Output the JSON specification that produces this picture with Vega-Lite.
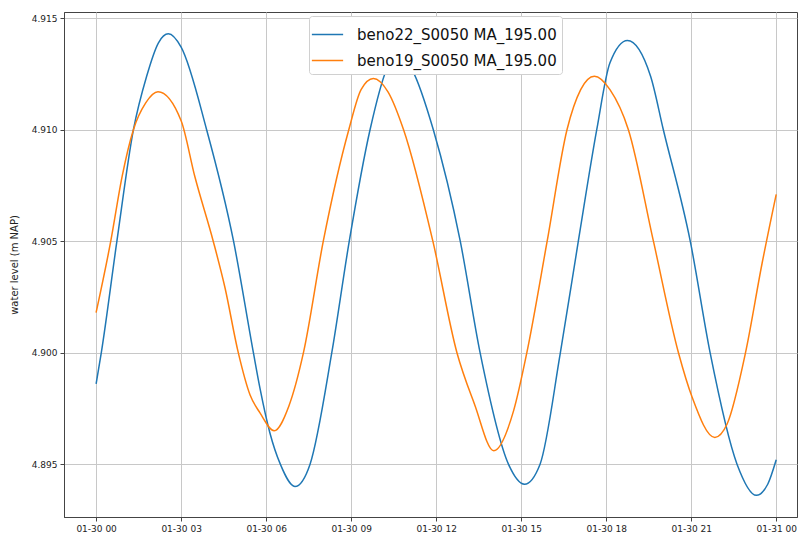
{
  "$schema": "https://vega.github.io/schema/vega-lite/v6.json",
  "width": 733,
  "height": 505,
  "autosize": {"type": "none"},
  "padding": {"left": 64, "top": 12, "right": 1, "bottom": 18},
  "background": "white",
  "config": {
    "view": {"stroke": "#444", "strokeWidth": 1},
    "font": "DejaVu Sans"
  },
  "data": {
    "values": [
      {"time": "2023-01-30T00:00", "series": "beno22_S0050 MA_195.00", "level": 4.8986},
      {"time": "2023-01-30T00:11", "series": "beno22_S0050 MA_195.00", "level": 4.9000},
      {"time": "2023-01-30T00:44", "series": "beno22_S0050 MA_195.00", "level": 4.9050},
      {"time": "2023-01-30T01:19", "series": "beno22_S0050 MA_195.00", "level": 4.9100},
      {"time": "2023-01-30T01:47", "series": "beno22_S0050 MA_195.00", "level": 4.9124},
      {"time": "2023-01-30T02:12", "series": "beno22_S0050 MA_195.00", "level": 4.9139},
      {"time": "2023-01-30T02:33", "series": "beno22_S0050 MA_195.00", "level": 4.9143},
      {"time": "2023-01-30T03:00", "series": "beno22_S0050 MA_195.00", "level": 4.9137},
      {"time": "2023-01-30T03:54", "series": "beno22_S0050 MA_195.00", "level": 4.9100},
      {"time": "2023-01-30T04:51", "series": "beno22_S0050 MA_195.00", "level": 4.9050},
      {"time": "2023-01-30T05:33", "series": "beno22_S0050 MA_195.00", "level": 4.9000},
      {"time": "2023-01-30T05:47", "series": "beno22_S0050 MA_195.00", "level": 4.8984},
      {"time": "2023-01-30T06:08", "series": "beno22_S0050 MA_195.00", "level": 4.8964},
      {"time": "2023-01-30T06:30", "series": "beno22_S0050 MA_195.00", "level": 4.8950},
      {"time": "2023-01-30T07:01", "series": "beno22_S0050 MA_195.00", "level": 4.8940},
      {"time": "2023-01-30T07:33", "series": "beno22_S0050 MA_195.00", "level": 4.8950},
      {"time": "2023-01-30T08:19", "series": "beno22_S0050 MA_195.00", "level": 4.9000},
      {"time": "2023-01-30T08:56", "series": "beno22_S0050 MA_195.00", "level": 4.9050},
      {"time": "2023-01-30T09:40", "series": "beno22_S0050 MA_195.00", "level": 4.9100},
      {"time": "2023-01-30T10:15", "series": "beno22_S0050 MA_195.00", "level": 4.9127},
      {"time": "2023-01-30T10:44", "series": "beno22_S0050 MA_195.00", "level": 4.9134},
      {"time": "2023-01-30T11:09", "series": "beno22_S0050 MA_195.00", "level": 4.9127},
      {"time": "2023-01-30T11:54", "series": "beno22_S0050 MA_195.00", "level": 4.9100},
      {"time": "2023-01-30T12:51", "series": "beno22_S0050 MA_195.00", "level": 4.9050},
      {"time": "2023-01-30T13:33", "series": "beno22_S0050 MA_195.00", "level": 4.9000},
      {"time": "2023-01-30T14:33", "series": "beno22_S0050 MA_195.00", "level": 4.8950},
      {"time": "2023-01-30T15:07", "series": "beno22_S0050 MA_195.00", "level": 4.8941},
      {"time": "2023-01-30T15:40", "series": "beno22_S0050 MA_195.00", "level": 4.8950},
      {"time": "2023-01-30T16:23", "series": "beno22_S0050 MA_195.00", "level": 4.9000},
      {"time": "2023-01-30T17:01", "series": "beno22_S0050 MA_195.00", "level": 4.9050},
      {"time": "2023-01-30T17:40", "series": "beno22_S0050 MA_195.00", "level": 4.9100},
      {"time": "2023-01-30T18:08", "series": "beno22_S0050 MA_195.00", "level": 4.9130},
      {"time": "2023-01-30T18:45", "series": "beno22_S0050 MA_195.00", "level": 4.9140},
      {"time": "2023-01-30T19:34", "series": "beno22_S0050 MA_195.00", "level": 4.9124},
      {"time": "2023-01-30T20:01", "series": "beno22_S0050 MA_195.00", "level": 4.9100},
      {"time": "2023-01-30T20:58", "series": "beno22_S0050 MA_195.00", "level": 4.9050},
      {"time": "2023-01-30T21:40", "series": "beno22_S0050 MA_195.00", "level": 4.9000},
      {"time": "2023-01-30T22:37", "series": "beno22_S0050 MA_195.00", "level": 4.8950},
      {"time": "2023-01-30T23:18", "series": "beno22_S0050 MA_195.00", "level": 4.8936},
      {"time": "2023-01-30T23:42", "series": "beno22_S0050 MA_195.00", "level": 4.8941},
      {"time": "2023-01-31T00:00", "series": "beno22_S0050 MA_195.00", "level": 4.8952},

      {"time": "2023-01-30T00:00", "series": "beno19_S0050 MA_195.00", "level": 4.9018},
      {"time": "2023-01-30T00:31", "series": "beno19_S0050 MA_195.00", "level": 4.9050},
      {"time": "2023-01-30T00:55", "series": "beno19_S0050 MA_195.00", "level": 4.9079},
      {"time": "2023-01-30T01:19", "series": "beno19_S0050 MA_195.00", "level": 4.9100},
      {"time": "2023-01-30T01:45", "series": "beno19_S0050 MA_195.00", "level": 4.9112},
      {"time": "2023-01-30T02:11", "series": "beno19_S0050 MA_195.00", "level": 4.9117},
      {"time": "2023-01-30T03:00", "series": "beno19_S0050 MA_195.00", "level": 4.9104},
      {"time": "2023-01-30T03:29", "series": "beno19_S0050 MA_195.00", "level": 4.9079},
      {"time": "2023-01-30T04:08", "series": "beno19_S0050 MA_195.00", "level": 4.9050},
      {"time": "2023-01-30T04:33", "series": "beno19_S0050 MA_195.00", "level": 4.9029},
      {"time": "2023-01-30T05:01", "series": "beno19_S0050 MA_195.00", "level": 4.9000},
      {"time": "2023-01-30T05:26", "series": "beno19_S0050 MA_195.00", "level": 4.8981},
      {"time": "2023-01-30T05:47", "series": "beno19_S0050 MA_195.00", "level": 4.8973},
      {"time": "2023-01-30T06:17", "series": "beno19_S0050 MA_195.00", "level": 4.8965},
      {"time": "2023-01-30T06:48", "series": "beno19_S0050 MA_195.00", "level": 4.8976},
      {"time": "2023-01-30T07:19", "series": "beno19_S0050 MA_195.00", "level": 4.9000},
      {"time": "2023-01-30T08:01", "series": "beno19_S0050 MA_195.00", "level": 4.9050},
      {"time": "2023-01-30T08:55", "series": "beno19_S0050 MA_195.00", "level": 4.9100},
      {"time": "2023-01-30T09:21", "series": "beno19_S0050 MA_195.00", "level": 4.9118},
      {"time": "2023-01-30T09:47", "series": "beno19_S0050 MA_195.00", "level": 4.9123},
      {"time": "2023-01-30T10:18", "series": "beno19_S0050 MA_195.00", "level": 4.9117},
      {"time": "2023-01-30T10:51", "series": "beno19_S0050 MA_195.00", "level": 4.9100},
      {"time": "2023-01-30T11:53", "series": "beno19_S0050 MA_195.00", "level": 4.9050},
      {"time": "2023-01-30T12:44", "series": "beno19_S0050 MA_195.00", "level": 4.9000},
      {"time": "2023-01-30T13:21", "series": "beno19_S0050 MA_195.00", "level": 4.8977},
      {"time": "2023-01-30T14:02", "series": "beno19_S0050 MA_195.00", "level": 4.8956},
      {"time": "2023-01-30T14:44", "series": "beno19_S0050 MA_195.00", "level": 4.8974},
      {"time": "2023-01-30T15:12", "series": "beno19_S0050 MA_195.00", "level": 4.9000},
      {"time": "2023-01-30T15:55", "series": "beno19_S0050 MA_195.00", "level": 4.9050},
      {"time": "2023-01-30T16:37", "series": "beno19_S0050 MA_195.00", "level": 4.9100},
      {"time": "2023-01-30T17:06", "series": "beno19_S0050 MA_195.00", "level": 4.9118},
      {"time": "2023-01-30T17:35", "series": "beno19_S0050 MA_195.00", "level": 4.9124},
      {"time": "2023-01-30T18:08", "series": "beno19_S0050 MA_195.00", "level": 4.9118},
      {"time": "2023-01-30T18:47", "series": "beno19_S0050 MA_195.00", "level": 4.9100},
      {"time": "2023-01-30T19:40", "series": "beno19_S0050 MA_195.00", "level": 4.9050},
      {"time": "2023-01-30T20:33", "series": "beno19_S0050 MA_195.00", "level": 4.9000},
      {"time": "2023-01-30T21:02", "series": "beno19_S0050 MA_195.00", "level": 4.8980},
      {"time": "2023-01-30T21:50", "series": "beno19_S0050 MA_195.00", "level": 4.8962},
      {"time": "2023-01-30T22:16", "series": "beno19_S0050 MA_195.00", "level": 4.8968},
      {"time": "2023-01-30T22:55", "series": "beno19_S0050 MA_195.00", "level": 4.9000},
      {"time": "2023-01-30T23:30", "series": "beno19_S0050 MA_195.00", "level": 4.9040},
      {"time": "2023-01-31T00:00", "series": "beno19_S0050 MA_195.00", "level": 4.9071}
    ]
  },
  "mark": {"type": "line", "strokeWidth": 1.5, "interpolate": "monotone", "clip": true},
  "encoding": {
    "x": {
      "field": "time",
      "type": "temporal",
      "scale": {
        "domain": ["2023-01-29T22:52", "2023-01-31T00:44"],
        "nice": false
      },
      "axis": {
        "title": null,
        "format": "%m-%d %H",
        "values": [
          "2023-01-30T00:00", "2023-01-30T03:00", "2023-01-30T06:00",
          "2023-01-30T09:00", "2023-01-30T12:00", "2023-01-30T15:00",
          "2023-01-30T18:00", "2023-01-30T21:00", "2023-01-31T00:00"
        ],
        "labelFont": "DejaVu Sans",
        "labelFontSize": 9,
        "labelColor": "#222",
        "labelPadding": 3,
        "tickColor": "#444",
        "tickSize": 4,
        "domainColor": "#444",
        "gridColor": "#c8c8c8",
        "gridWidth": 1,
        "labelFlush": false
      }
    },
    "y": {
      "field": "level",
      "type": "quantitative",
      "scale": {"domain": [4.89263, 4.91528], "nice": false, "zero": false},
      "axis": {
        "title": "water level (m NAP)",
        "titleFont": "DejaVu Sans",
        "titleFontSize": 10,
        "titleFontWeight": "normal",
        "titleColor": "#222",
        "titlePadding": 12,
        "values": [4.895, 4.9, 4.905, 4.91, 4.915],
        "format": ".3f",
        "labelFont": "DejaVu Sans",
        "labelFontSize": 9,
        "labelColor": "#222",
        "labelPadding": 3,
        "tickColor": "#444",
        "tickSize": 4,
        "domainColor": "#444",
        "gridColor": "#c8c8c8",
        "gridWidth": 1
      }
    },
    "color": {
      "field": "series",
      "type": "nominal",
      "sort": null,
      "scale": {
        "domain": ["beno22_S0050 MA_195.00", "beno19_S0050 MA_195.00"],
        "range": ["#1f77b4", "#ff7f0e"]
      },
      "legend": {
        "title": null,
        "orient": "none",
        "legendX": 245,
        "legendY": 4,
        "symbolType": "M-1.25,0H1.25",
        "symbolSize": 625,
        "symbolStrokeWidth": 1.5,
        "labelFont": "DejaVu Sans",
        "labelFontSize": 15,
        "labelColor": "#111",
        "labelLimit": 0,
        "labelOffset": 16,
        "rowPadding": 4,
        "padding": 5,
        "fillColor": "white",
        "strokeColor": "#d0d0d0",
        "cornerRadius": 3
      }
    }
  }
}
